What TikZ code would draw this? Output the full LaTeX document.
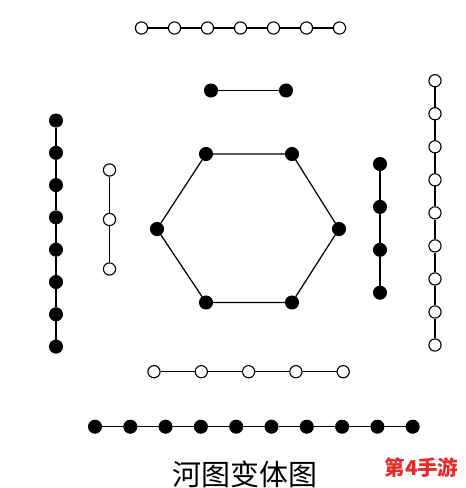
\documentclass[tikz,border=0pt]{standalone}
\usepackage{fontspec}
\newfontfamily\cjk{Noto Sans CJK SC}
\definecolor{markred}{HTML}{E62A2A}
\begin{document}
\begin{tikzpicture}[x=1pt,y=-1pt,
  yin/.style={circle,fill=black,draw=black,line width=0.8pt,minimum size=13.2pt,inner sep=0pt},
  yang/.style={circle,fill=white,draw=black,line width=1.1pt,minimum size=12.2pt,inner sep=0pt},
  link/.style={line width=1.25pt}]
\useasboundingbox (0,0) rectangle (466,488);
% top open row (7)
\foreach \i in {0,...,6} \node[yang] (t\i) at ({141.5+33*\i},28) {};
\foreach \i [evaluate=\i as \j using int(\i+1)] in {0,...,5} \draw[link] (t\i) -- (t\j);
% black pair
\node[yin] (p0) at (211,90.5) {};
\node[yin] (p1) at (286,90.5) {};
\draw[link] (p0) -- (p1);
% hexagon
\node[yin] (h1) at (206,154) {};
\node[yin] (h2) at (292,154) {};
\node[yin] (h3) at (339,229) {};
\node[yin] (h4) at (292,302.5) {};
\node[yin] (h5) at (206,302.5) {};
\node[yin] (h6) at (157,229) {};
\draw[link] (h1) -- (h2) -- (h3) -- (h4) -- (h5) -- (h6) -- (h1);
% left black column (8)
\foreach \i in {0,...,7} \node[yin] (l\i) at (56,{120.5+32.3*\i}) {};
\foreach \i [evaluate=\i as \j using int(\i+1)] in {0,...,6} \draw[link] (l\i) -- (l\j);
% left small open (3)
\foreach \i in {0,...,2} \node[yang] (s\i) at (109.5,{170+49.5*\i}) {};
\draw[link] (s0) -- (s1) -- (s2);
% right small black (4)
\foreach \i in {0,...,3} \node[yin] (r\i) at (380,{164+42.9*\i}) {};
\draw[link] (r0) -- (r1) -- (r2) -- (r3);
% right long open (9)
\foreach \i in {0,...,8} \node[yang] (q\i) at (435,{80.7+33.04*\i}) {};
\foreach \i [evaluate=\i as \j using int(\i+1)] in {0,...,7} \draw[link] (q\i) -- (q\j);
% bottom open (5)
\foreach \i in {0,...,4} \node[yang] (b\i) at ({154+47.3*\i},371.7) {};
\draw[link] (b0) -- (b1) -- (b2) -- (b3) -- (b4);
% bottom black (10)
\foreach \i in {0,...,9} \node[yin] (c\i) at ({95+35.3*\i},426.7) {};
\foreach \i [evaluate=\i as \j using int(\i+1)] in {0,...,8} \draw[link] (c\i) -- (c\j);
% title
\node[font=\cjk\fontsize{29}{29}\selectfont] (title) at (245,474) {河图变体图};
\node[font=\cjk\bfseries\fontsize{20.5}{20.5}\selectfont,text=markred] (mark) at (421.5,468) {第4手游};
\end{tikzpicture}
\end{document}
